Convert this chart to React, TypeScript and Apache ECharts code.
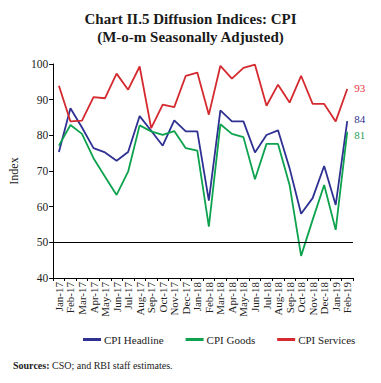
import React, { useEffect, useRef } from "react";
import * as echarts from "echarts";

const months = [
  "Jan-17", "Feb-17", "Mar-17", "Apr-17", "May-17", "Jun-17", "Jul-17", "Aug-17", "Sep-17", "Oct-17", "Nov-17", "Dec-17",
  "Jan-18", "Feb-18", "Mar-18", "Apr-18", "May-18", "Jun-18", "Jul-18", "Aug-18", "Sep-18", "Oct-18", "Nov-18", "Dec-18",
  "Jan-19", "Feb-19",
];

const cpiHeadline = [
  75.3, 87.6, 82.2, 76.4, 75.2, 72.9, 75.3, 85.4, 81.3, 77.1, 84.2, 81.1,
  81.1, 61.7, 87.0, 83.9, 83.9, 75.2, 80.1, 81.4, 70.8, 58.0, 62.4, 71.4,
  60.5, 84,
];

const cpiGoods = [
  77.1, 82.9, 80.4, 73.6, 68.4, 63.3, 69.8, 82.8, 81.1, 80.1, 81.2, 76.4,
  75.7, 54.4, 83.1, 80.4, 79.5, 67.7, 77.6, 77.6, 66.1, 46.2, 56.3, 66.1,
  53.5, 81,
];

const cpiServices = [
  93.9, 83.9, 84.1, 90.7, 90.4, 97.3, 92.8, 99.3, 82.0, 88.6, 87.9, 96.7,
  97.6, 85.8, 99.5, 95.9, 98.9, 99.8, 88.3, 94.2, 89.2, 96.7, 88.8, 88.8,
  83.9, 93,
];

const yTicks = { min: 40, max: 100, interval: 10 };

const SERIF = "'Liberation Serif', 'DejaVu Serif', serif";

export default function App() {
  const ref = useRef<HTMLDivElement>(null);

  useEffect(() => {
    if (!ref.current) return;
    const chart = echarts.init(ref.current, null, { renderer: "svg" });

    const mkSeries = (
      name: string,
      data: number[],
      color: string,
      labelColor: string,
      offset: [number, number]
    ) => ({
      name,
      type: "line",
      data,
      symbol: "none",
      lineStyle: { color, width: 1.8 },
      itemStyle: { color },
      endLabel: {
        show: true,
        formatter: (p: any) => String(Math.round(p.value)),
        color: labelColor,
        fontFamily: SERIF,
        fontSize: 11,
        distance: 7,
        offset,
      },
    });

    chart.setOption({
      animation: false,
      backgroundColor: "#ffffff",
      title: {
        text: "Chart II.5 Diffusion Indices: CPI\n(M-o-m Seasonally Adjusted)",
        left: "center",
        top: 5,
        textStyle: {
          fontFamily: SERIF,
          fontWeight: "bold",
          fontSize: 15,
          lineHeight: 18,
          color: "#1a1a1a",
        },
      },
      grid: { left: 50, right: 28, top: 64, bottom: 105 },
      xAxis: {
        type: "category",
        data: months,
        boundaryGap: true,
        axisLine: { show: true, lineStyle: { color: "#000", width: 1 } },
        axisTick: { show: true, length: 3, lineStyle: { color: "#000" } },
        axisLabel: {
          rotate: 90,
          interval: 0,
          fontFamily: SERIF,
          fontSize: 11,
          color: "#222",
          margin: 4,
        },
        splitLine: { show: false },
      },
      yAxis: {
        type: "value",
        min: yTicks.min,
        max: yTicks.max,
        interval: yTicks.interval,
        name: "Index",
        nameLocation: "middle",
        nameGap: 26,
        nameRotate: 90,
        nameTextStyle: { fontFamily: SERIF, fontSize: 12, color: "#222" },
        axisLine: { show: true, lineStyle: { color: "#000", width: 1 } },
        axisTick: { show: true, length: 4, lineStyle: { color: "#000" } },
        axisLabel: { fontFamily: SERIF, fontSize: 11.5, color: "#222", margin: 5 },
        splitLine: { show: false },
      },
      legend: {
        top: 329,
        left: 78,
        itemGap: 22,
        itemWidth: 18,
        itemHeight: 3,
        icon: "rect",
        textStyle: { fontFamily: SERIF, fontSize: 11, color: "#222", padding: [0, 0, 0, -2] },
        data: ["CPI Headline", "CPI Goods", "CPI Services"],
      },
      series: [
        {
          ...mkSeries("CPI Headline", cpiHeadline, "#2e3192", "#2e3192", [0, -2]),
          markLine: {
            silent: true,
            symbol: "none",
            label: { show: false },
            lineStyle: { color: "#000", width: 1, type: "solid" },
            data: [{ yAxis: 50 }],
          },
        },
        mkSeries("CPI Goods", cpiGoods, "#0ca24e", "#1fa05a", [0, 3]),
        mkSeries("CPI Services", cpiServices, "#d42a2f", "#e8303a", [0, -1]),
      ],
      graphic: [
        {
          type: "rect",
          shape: { x: 1.5, y: -2, width: 375, height: 379.5 },
          style: { fill: "none", stroke: "#222", lineWidth: 1.5 },
          silent: true,
        },
        {
          type: "text",
          left: 13,
          top: 360,
          style: {
            text: "{b|Sources:} CSO; and RBI staff estimates.",
            fontFamily: SERIF,
            fontSize: 10,
            fill: "#222",
            rich: {
              b: { fontFamily: SERIF, fontSize: 10, fontWeight: "bold", fill: "#222" },
            },
          },
        },
      ],
    });

    return () => chart.dispose();
  }, []);

  return <div ref={ref} style={{ width: 381, height: 383, margin: -8 }} />;
}
